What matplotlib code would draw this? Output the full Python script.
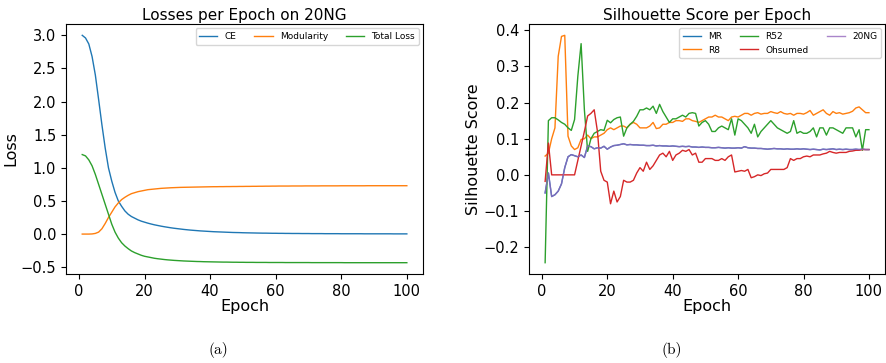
import matplotlib
matplotlib.use("Agg")
import matplotlib.pyplot as plt

epochs = list(range(1, 101))

# (a) losses on 20NG
ce_loss = [
    3.00, 2.96, 2.87, 2.68, 2.40, 2.03, 1.65, 1.30, 1.00, 0.80,
    0.63, 0.50, 0.42, 0.35, 0.30, 0.265, 0.24, 0.215, 0.195, 0.18,
    0.165, 0.152, 0.14, 0.13, 0.12, 0.111, 0.103, 0.095, 0.088, 0.082,
    0.076, 0.07, 0.065, 0.06, 0.056, 0.052, 0.048, 0.045, 0.042, 0.039,
    0.036, 0.034, 0.032, 0.030, 0.028, 0.026, 0.024, 0.023, 0.022, 0.020,
    0.019, 0.018, 0.017, 0.016, 0.015, 0.014, 0.014, 0.013, 0.012, 0.012,
    0.011, 0.011, 0.010, 0.010, 0.009, 0.009, 0.009, 0.008, 0.008, 0.008,
    0.007, 0.007, 0.007, 0.007, 0.006, 0.006, 0.006, 0.006, 0.006, 0.005,
    0.005, 0.005, 0.005, 0.005, 0.005, 0.005, 0.004, 0.004, 0.004, 0.004,
    0.004, 0.004, 0.004, 0.004, 0.004, 0.003, 0.003, 0.003, 0.003, 0.003,
]
modularity = [
    0.0, 0.0, 0.0, 0.002, 0.01, 0.03, 0.08, 0.16, 0.25, 0.33,
    0.41, 0.47, 0.52, 0.555, 0.585, 0.61, 0.625, 0.64, 0.65, 0.66,
    0.67, 0.675, 0.68, 0.685, 0.69, 0.693, 0.696, 0.699, 0.701, 0.703,
    0.705, 0.706, 0.707, 0.708, 0.709, 0.710, 0.711, 0.712, 0.713, 0.714,
    0.715, 0.715, 0.716, 0.716, 0.717, 0.717, 0.718, 0.718, 0.719, 0.719,
    0.720, 0.720, 0.721, 0.721, 0.722, 0.722, 0.723, 0.723, 0.724, 0.724,
    0.725, 0.725, 0.725, 0.725, 0.726, 0.726, 0.726, 0.726, 0.727, 0.727,
    0.727, 0.727, 0.727, 0.728, 0.728, 0.728, 0.728, 0.728, 0.728, 0.729,
    0.729, 0.729, 0.729, 0.729, 0.729, 0.729, 0.729, 0.730, 0.730, 0.730,
    0.730, 0.730, 0.730, 0.730, 0.730, 0.730, 0.730, 0.730, 0.730, 0.730,
]
total_loss = [
    1.20, 1.18, 1.12, 1.03, 0.90, 0.75, 0.60, 0.45, 0.30, 0.15,
    0.03, -0.06, -0.13, -0.18, -0.22, -0.255, -0.28, -0.30, -0.32, -0.335,
    -0.345, -0.355, -0.365, -0.372, -0.378, -0.384, -0.389, -0.393, -0.397, -0.40,
    -0.403, -0.406, -0.408, -0.41, -0.412, -0.414, -0.415, -0.417, -0.418, -0.419,
    -0.42, -0.421, -0.422, -0.423, -0.423, -0.424, -0.425, -0.425, -0.426, -0.426,
    -0.427, -0.427, -0.427, -0.428, -0.428, -0.428, -0.428, -0.429, -0.429, -0.429,
    -0.429, -0.429, -0.430, -0.430, -0.430, -0.430, -0.430, -0.430, -0.430, -0.430,
    -0.431, -0.431, -0.431, -0.431, -0.431, -0.431, -0.431, -0.431, -0.431, -0.431,
    -0.432, -0.432, -0.432, -0.432, -0.432, -0.432, -0.432, -0.432, -0.432, -0.432,
    -0.432, -0.432, -0.432, -0.432, -0.432, -0.432, -0.432, -0.432, -0.432, -0.432,
]

# (b) silhouette scores
sil_20ng = [
    -0.05, 0.005, -0.06, -0.055, -0.045, -0.025, 0.02, 0.05, 0.056, 0.053,
    0.05, 0.055, 0.048, 0.08, 0.078, 0.072, 0.075, 0.074, 0.079, 0.071,
    0.077, 0.081, 0.082, 0.084, 0.086, 0.083, 0.084, 0.083, 0.083, 0.082,
    0.082, 0.081, 0.081, 0.082, 0.080, 0.081, 0.080, 0.080, 0.079, 0.080,
    0.079, 0.078, 0.079, 0.078, 0.079, 0.077, 0.077, 0.076, 0.077, 0.076,
    0.076, 0.075, 0.075, 0.076, 0.075, 0.074, 0.075, 0.074, 0.074, 0.075,
    0.074, 0.078, 0.075, 0.074, 0.074, 0.073, 0.073, 0.072, 0.071, 0.072,
    0.073, 0.072, 0.072, 0.071, 0.072, 0.071, 0.071, 0.072, 0.071, 0.072,
    0.071, 0.070, 0.071, 0.070, 0.069, 0.071, 0.070, 0.071, 0.072, 0.070,
    0.071, 0.070, 0.071, 0.070, 0.070, 0.071, 0.070, 0.071, 0.070, 0.070,
]
sil_mr = [
    -0.05, 0.005, -0.06, -0.055, -0.045, -0.025, 0.02, 0.05, 0.056, 0.053,
    0.05, 0.055, 0.048, 0.08, 0.078, 0.072, 0.075, 0.074, 0.079, 0.071,
    0.077, 0.081, 0.082, 0.084, 0.086, 0.083, 0.084, 0.083, 0.083, 0.082,
    0.082, 0.081, 0.081, 0.082, 0.080, 0.081, 0.080, 0.080, 0.079, 0.080,
    0.079, 0.078, 0.079, 0.078, 0.079, 0.077, 0.077, 0.076, 0.077, 0.076,
    0.076, 0.075, 0.075, 0.076, 0.075, 0.074, 0.075, 0.074, 0.074, 0.075,
    0.074, 0.078, 0.075, 0.074, 0.074, 0.073, 0.073, 0.072, 0.071, 0.072,
    0.073, 0.072, 0.072, 0.071, 0.072, 0.071, 0.071, 0.072, 0.071, 0.072,
    0.071, 0.070, 0.071, 0.070, 0.069, 0.071, 0.070, 0.071, 0.072, 0.070,
    0.071, 0.070, 0.071, 0.070, 0.070, 0.071, 0.070, 0.071, 0.070, 0.070,
]
sil_r8 = [
    0.052, 0.06, 0.10, 0.13, 0.328, 0.383, 0.386, 0.107, 0.08, 0.07,
    0.075, 0.098, 0.10, 0.11, 0.10, 0.105, 0.105, 0.11, 0.115, 0.125,
    0.13, 0.125, 0.13, 0.135, 0.135, 0.13, 0.14, 0.145, 0.14, 0.13,
    0.13, 0.13, 0.135, 0.145, 0.128, 0.13, 0.14, 0.14, 0.145, 0.145,
    0.15, 0.15, 0.148, 0.155, 0.155, 0.15, 0.148, 0.145, 0.15, 0.155,
    0.16, 0.16, 0.165, 0.16, 0.16, 0.155, 0.15, 0.16, 0.162, 0.16,
    0.165, 0.17, 0.17, 0.165, 0.17, 0.172, 0.168, 0.17, 0.17, 0.175,
    0.172, 0.17, 0.175, 0.17, 0.168, 0.17, 0.165, 0.17, 0.17, 0.168,
    0.172, 0.178, 0.165, 0.17, 0.175, 0.18, 0.17, 0.165, 0.175, 0.17,
    0.172, 0.168, 0.17, 0.172, 0.176, 0.185, 0.188, 0.18, 0.172, 0.172,
]
sil_r52 = [
    -0.243, 0.15, 0.158, 0.158, 0.152, 0.145, 0.14, 0.13, 0.123, 0.153,
    0.273, 0.363, 0.18, 0.065, 0.10, 0.115, 0.12, 0.125, 0.123, 0.151,
    0.144, 0.153, 0.158, 0.16, 0.107, 0.13, 0.14, 0.148, 0.162, 0.18,
    0.18, 0.185, 0.18, 0.19, 0.17, 0.195, 0.175, 0.16, 0.145, 0.155,
    0.155, 0.16, 0.165, 0.16, 0.17, 0.172, 0.17, 0.135, 0.145, 0.15,
    0.14, 0.12, 0.12, 0.13, 0.135, 0.13, 0.125, 0.155, 0.11, 0.155,
    0.15, 0.14, 0.13, 0.115, 0.14, 0.105, 0.12, 0.13, 0.14, 0.15,
    0.14, 0.13, 0.125, 0.12, 0.115, 0.12, 0.15, 0.115, 0.12, 0.115,
    0.115, 0.12, 0.13, 0.105, 0.13, 0.13, 0.11, 0.13, 0.13, 0.125,
    0.12, 0.115, 0.13, 0.13, 0.13, 0.105, 0.125, 0.068, 0.125, 0.125,
]
sil_ohsumed = [
    -0.018, 0.088, 0.0, 0.0, 0.0, 0.0, 0.0, 0.0, 0.0, 0.0,
    0.04, 0.08, 0.12, 0.163, 0.17, 0.18, 0.12, 0.01, -0.015, -0.02,
    -0.08, -0.045, -0.075, -0.06, -0.015, -0.02, -0.02, -0.015, 0.005, 0.02,
    0.01, 0.035, 0.015, 0.025, 0.04, 0.055, 0.06, 0.05, 0.065, 0.04,
    0.055, 0.06, 0.068, 0.065, 0.07, 0.055, 0.06, 0.035, 0.035, 0.045,
    0.045, 0.045, 0.04, 0.04, 0.045, 0.04, 0.05, 0.055, 0.008, 0.01,
    0.012, 0.01, 0.015, -0.008, -0.005, 0.0, -0.002, 0.003, 0.005, 0.015,
    0.015, 0.015, 0.015, 0.015, 0.02, 0.045, 0.04, 0.045, 0.045, 0.05,
    0.052, 0.05, 0.055, 0.055, 0.055, 0.058, 0.06, 0.065, 0.062, 0.06,
    0.062, 0.062, 0.062, 0.065, 0.066, 0.068, 0.068, 0.07, 0.07, 0.07,
]

fig = plt.figure(figsize=(8.86, 3.63), dpi=100)
ax1 = fig.add_axes([0.0745, 0.245, 0.403, 0.689])
ax2 = fig.add_axes([0.597, 0.245, 0.402, 0.689])

ax1.plot(epochs, ce_loss, color="tab:blue", lw=1, label="CE")
ax1.plot(epochs, modularity, color="tab:orange", lw=1, label="Modularity")
ax1.plot(epochs, total_loss, color="tab:green", lw=1, label="Total Loss")
ax1.set_title("Losses per Epoch on 20NG", fontsize=11, pad=3)
ax1.set_xlabel("Epoch", fontsize=11.5, labelpad=0)
ax1.set_ylabel("Loss", fontsize=11.5, labelpad=2)
ax1.legend(ncol=3, loc="upper right", fontsize=6.5)

ax2.plot(epochs, sil_mr, color="tab:blue", lw=1, label="MR")
ax2.plot(epochs, sil_r8, color="tab:orange", lw=1, label="R8")
ax2.plot(epochs, sil_r52, color="tab:green", lw=1, label="R52")
ax2.plot(epochs, sil_ohsumed, color="tab:red", lw=1, label="Ohsumed")
ax2.plot(epochs, sil_20ng, color="tab:purple", lw=1, alpha=0.8, label="20NG")
ax2.set_title("Silhouette Score per Epoch", fontsize=11, pad=3)
ax2.set_xlabel("Epoch", fontsize=11.5, labelpad=0)
ax2.set_ylabel("Silhouette Score", fontsize=11.5, labelpad=2)
ax2.legend(ncol=3, loc="upper right", fontsize=6.5)

for ax in (ax1, ax2):
    ax.tick_params(labelsize=10.5)

fig.text(0.246, 0.036, "(a)", ha="center", va="center", family="cmr10", fontsize=11)
fig.text(0.758, 0.036, "(b)", ha="center", va="center", family="cmr10", fontsize=11)

fig.savefig("out.png", dpi=100)
